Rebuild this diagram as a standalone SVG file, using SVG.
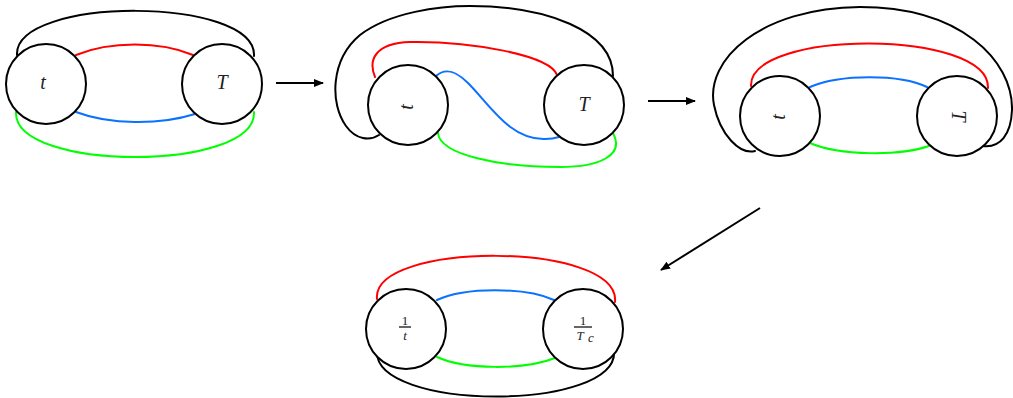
<svg xmlns="http://www.w3.org/2000/svg" width="1013" height="398" viewBox="0 0 1013 398">
<style>
.c{fill:none;stroke-width:2;stroke-linecap:round}
.k{stroke:#000}.r{stroke:#ff0000}.b{stroke:#0a72ff}.g{stroke:#00ff00}
.n{fill:#fff;stroke:#000;stroke-width:2}
.lb{font-family:"Liberation Serif",serif;font-style:italic;font-size:20px;fill:#222;text-anchor:middle;dominant-baseline:central}
.fr{font-family:"Liberation Serif",serif;font-size:13px;fill:#222;text-anchor:middle}
.ar{fill:none;stroke:#000;stroke-width:2;marker-end:url(#ah)}
</style>
<defs>
<marker id="ah" viewBox="0 0 10 10" refX="9" refY="5" markerWidth="5" markerHeight="5" orient="auto" markerUnits="strokeWidth">
<path d="M0,1 L10,5 L0,9 Z" fill="#000"/>
</marker>
</defs>
<g id="connectors">
<!-- panel 1 -->
<path class="c k" d="M17,55 C14,-4 257,-4 254,56"/>
<path class="c r" d="M76,55 C110,41 160,41 193,55"/>
<path class="c b" d="M76,112 C110,125 160,125 195,114"/>
<path class="c g" d="M16,112 C13,172 257,172 254,112"/>
<!-- panel 2 -->
<path class="c k" d="M379,135 C370,141 356,140 346,126 C330,104 330,60 360,35 C390,12 440,6 470,6 C545,6 613,30 613,76"/>
<path class="c r" d="M375,77 C368,60 375,43 410,42 C470,41 550,55 557,75"/>
<path class="c b" d="M436,76 C445,68 455,70 468,83 C490,105 510,140 545,139 C552,139 556,138 559,137"/>
<path class="c g" d="M438,133 C440,155 500,167 560,167 C600,167 625,155 613,133"/>
<!-- panel 3 -->
<path class="c k" d="M755,151 C740,155 720,135 714,105 C705,60 760,8 860,7 C960,7 1013,60 1012,110 C1011,135 1000,148 983,146"/>
<path class="c r" d="M751,86 C749,29 990,29 988,88"/>
<path class="c b" d="M810,87 C840,74 900,74 927,87"/>
<path class="c g" d="M810,143 C840,156 900,156 929,146"/>
<!-- panel 4 -->
<path class="c r" d="M377,299 C371,241 621,241 615,302"/>
<path class="c b" d="M437,300 C465,287 525,287 554,300"/>
<path class="c g" d="M437,357 C465,370 525,370 555,358"/>
<path class="c k" d="M377,350 C371,412 621,412 614,350"/>
<!-- arrows -->
<path class="ar" d="M276,83 L323,83"/>
<path class="ar" d="M648,101 L695,101"/>
<path class="ar" d="M760,208 L661,270"/>
</g>
<g id="n1-t"><circle class="n" cx="46" cy="84" r="40"/><text class="lb" x="43" y="82">t</text></g>
<g id="n1-T"><circle class="n" cx="222" cy="84" r="40"/><text class="lb" x="222" y="82">T</text></g>
<g id="n2-t"><circle class="n" cx="408" cy="105" r="40"/><text class="lb" transform="translate(406,107) rotate(-90)" x="0" y="0">t</text></g>
<g id="n2-T"><circle class="n" cx="584" cy="105" r="40"/><text class="lb" x="584" y="104">T</text></g>
<g id="n3-t"><circle class="n" cx="780" cy="116" r="40"/><text class="lb" transform="translate(778,117) rotate(-90)" x="0" y="0">t</text></g>
<g id="n3-T"><circle class="n" cx="957" cy="116" r="40"/><text class="lb" transform="translate(959,116) rotate(90)" x="0" y="0">T</text></g>
<g id="n4-1t"><circle class="n" cx="406" cy="329" r="40"/>
<text class="fr" x="405" y="325">1</text><line x1="399" y1="327" x2="411" y2="327" stroke="#000" stroke-width="1.2"/>
<text class="fr" x="405" y="340" font-style="italic">t</text></g>
<g id="n4-1Tc"><circle class="n" cx="583" cy="329" r="40"/>
<text class="fr" x="583" y="325">1</text><line x1="574" y1="327" x2="592" y2="327" stroke="#000" stroke-width="1.2"/>
<text class="fr" x="580" y="340" font-style="italic">T</text><text class="fr" x="591" y="342" font-style="italic" font-size="10">c</text></g>
</svg>
